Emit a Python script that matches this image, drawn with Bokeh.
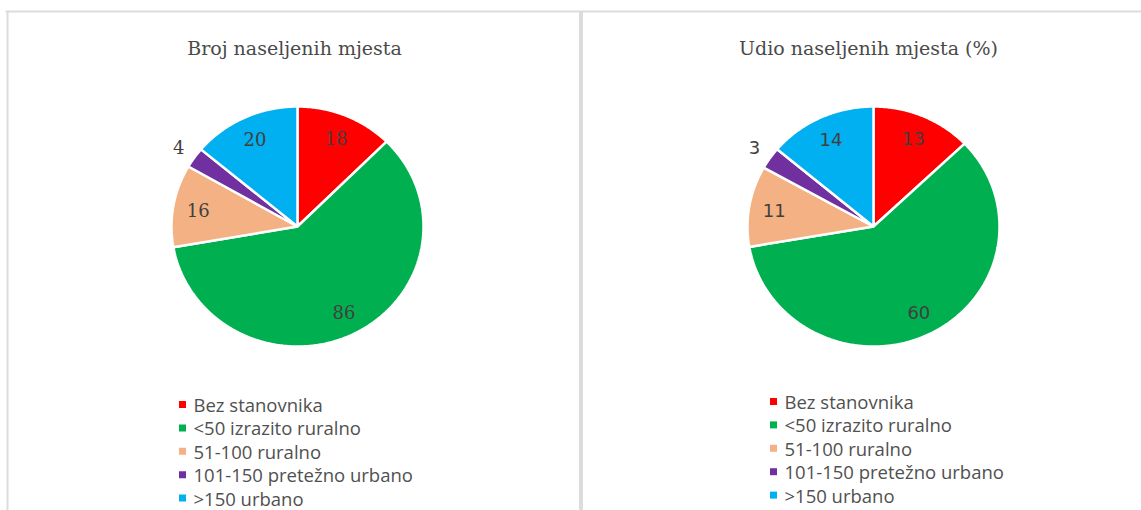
import numpy as np
from bokeh.plotting import figure
from bokeh.models import Range1d
from bokeh.core.properties import value
from bokeh.embed import file_html
from bokeh.resources import INLINE

# ---- data ----
categories = ["Bez stanovnika", "<50 izrazito ruralno", "51-100 ruralno",
              "101-150 pretežno urbano", ">150 urbano"]
colors = ["#FF0000", "#00B050", "#F4B183", "#7030A0", "#00B0F0"]
counts = [18, 86, 16, 4, 20]          # Broj naseljenih mjesta
shares = [13, 60, 11, 3, 14]          # Udio naseljenih mjesta (%)
titles = ["Broj naseljenih mjesta", "Udio naseljenih mjesta (%)"]

W, H = 1141, 510
p = figure(width=W, height=H, output_backend="svg", toolbar_location=None,
           x_range=Range1d(0, W), y_range=Range1d(H, 0),
           x_axis_type=None, y_axis_type=None, min_border=0)
p.grid.visible = False
p.outline_line_color = None
p.background_fill_color = "white"
p.border_fill_color = "white"

# panel borders
border_col = "#dcdcdc"
p.line([5, W], [11, 11], line_color=border_col, line_width=2)
p.line([7, 7], [11, H], line_color=border_col, line_width=2)
p.line([580.5, 580.5], [11, H], line_color=border_col, line_width=4)

panels = [
    dict(vals=counts, cx=297, cy=226, tx=294, lab_font="DejaVu Serif", leg_x=182, leg_y=404, leg_dy=23.4),
    dict(vals=shares, cx=873, cy=226, tx=868, lab_font="DejaVu Sans", leg_x=773, leg_y=401, leg_dy=23.4),
]
rx, ry = 126, 120

for k, pan in enumerate(panels):
    vals = np.array(pan["vals"], dtype=float)
    frac = vals / vals.sum()
    ends = np.cumsum(frac) * 2 * np.pi
    starts = ends - frac * 2 * np.pi
    xs, ys = [], []
    for a0, a1 in zip(starts, ends):
        t = np.linspace(a0, a1, max(int((a1 - a0) / 0.01), 4))
        xs.append([pan["cx"]] + list(pan["cx"] + rx * np.sin(t)))
        ys.append([pan["cy"]] + list(pan["cy"] - ry * np.cos(t)))
    p.patches(xs, ys, fill_color=colors, line_color="white", line_width=2.5)

    mids = (starts + ends) / 2
    fac = np.where(frac < 0.05, 1.15, 0.8)
    lx = pan["cx"] + rx * fac * np.sin(mids)
    ly = pan["cy"] - ry * fac * np.cos(mids)
    p.text(lx, ly, text=[str(v) for v in pan["vals"]],
           text_font=value(pan["lab_font"]), text_font_size="18px",
           text_color="#404040", text_align="center", text_baseline="middle")

    p.text([pan["tx"]], [47], text=[titles[k]], text_font=value("DejaVu Serif"),
           text_font_size="19px", text_color="#4a4a4a",
           text_align="center", text_baseline="middle")

    idx = np.arange(len(categories))
    ly2 = pan["leg_y"] + idx * pan["leg_dy"]
    p.scatter(np.full(len(idx), pan["leg_x"]), ly2, marker="square", size=7,
              fill_color=colors, line_color=None)
    p.text(np.full(len(idx), pan["leg_x"] + 11), ly2, text=categories,
           text_font=value("Open Sans"), text_font_size="18.5px",
           text_color="#505050", text_align="left", text_baseline="middle")

open("out.html", "w").write(file_html(p, INLINE))
